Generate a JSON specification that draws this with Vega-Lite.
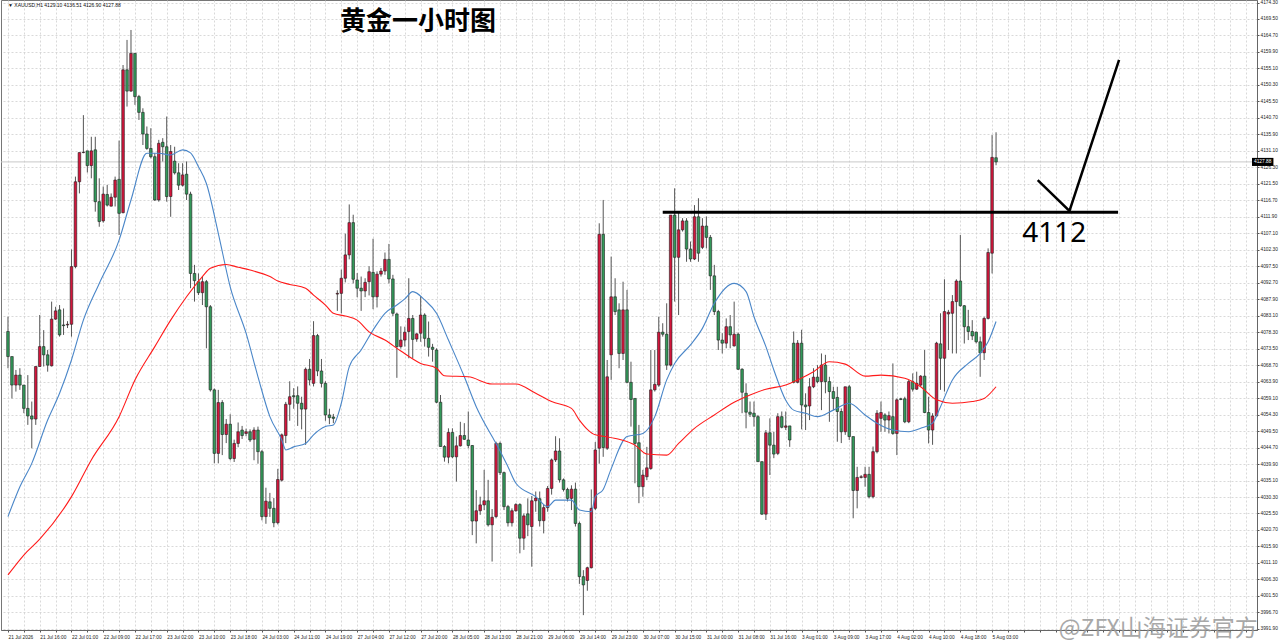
{
  "$schema": "https://vega.github.io/schema/vega-lite/v6.json",
  "width": 1256,
  "height": 630,
  "autosize": "none",
  "padding": {"left": 1, "top": 0, "right": 23, "bottom": 12},
  "background": "white",
  "config": {
    "view": {"stroke": "#777777", "strokeWidth": 1},
    "font": "Liberation Sans",
    "axis": {"labelOverlap": false, "labelSeparation": 0, "labelBound": false}
  },
  "datasets": {
    "candles": [
      {"i":0,"o":4078.5,"h":4082.8,"l":4067.8,"c":4071.2},
      {"i":1,"o":4071.2,"h":4071.2,"l":4059.0,"c":4062.9},
      {"i":2,"o":4062.9,"h":4067.3,"l":4061.0,"c":4065.8},
      {"i":3,"o":4065.8,"h":4067.8,"l":4061.5,"c":4062.9},
      {"i":4,"o":4062.9,"h":4062.9,"l":4054.7,"c":4056.1},
      {"i":5,"o":4056.1,"h":4065.8,"l":4051.3,"c":4053.9},
      {"i":6,"o":4053.9,"h":4058.1,"l":4044.5,"c":4053.0},
      {"i":7,"o":4053.0,"h":4068.3,"l":4051.3,"c":4068.3},
      {"i":8,"o":4068.3,"h":4083.3,"l":4068.3,"c":4074.1},
      {"i":9,"o":4074.1,"h":4078.9,"l":4068.3,"c":4071.7},
      {"i":10,"o":4071.7,"h":4073.1,"l":4066.8,"c":4068.7},
      {"i":11,"o":4068.5,"h":4087.2,"l":4068.3,"c":4082.1},
      {"i":12,"o":4082.1,"h":4085.7,"l":4081.9,"c":4084.5},
      {"i":13,"o":4084.8,"h":4086.2,"l":4077.0,"c":4077.5},
      {"i":14,"o":4080.4,"h":4085.2,"l":4077.5,"c":4080.2},
      {"i":15,"o":4080.4,"h":4081.5,"l":4079.5,"c":4080.6},
      {"i":16,"o":4080.6,"h":4102.4,"l":4077.0,"c":4097.4},
      {"i":17,"o":4097.4,"h":4123.6,"l":4096.9,"c":4122.1},
      {"i":18,"o":4122.1,"h":4130.6,"l":4118.7,"c":4130.6},
      {"i":19,"o":4130.6,"h":4141.5,"l":4130.4,"c":4130.7},
      {"i":20,"o":4131.1,"h":4131.1,"l":4124.8,"c":4126.8},
      {"i":21,"o":4126.8,"h":4135.2,"l":4123.1,"c":4131.1},
      {"i":22,"o":4131.4,"h":4135.2,"l":4113.4,"c":4116.3},
      {"i":23,"o":4116.3,"h":4123.1,"l":4109.0,"c":4110.5},
      {"i":24,"o":4110.7,"h":4120.7,"l":4110.2,"c":4118.5},
      {"i":25,"o":4118.4,"h":4121.2,"l":4114.9,"c":4115.3},
      {"i":26,"o":4115.0,"h":4118.7,"l":4114.9,"c":4117.6},
      {"i":27,"o":4117.6,"h":4123.6,"l":4114.9,"c":4122.6},
      {"i":28,"o":4122.8,"h":4134.1,"l":4106.6,"c":4112.9},
      {"i":29,"o":4113.1,"h":4156.1,"l":4112.9,"c":4154.7},
      {"i":30,"o":4154.7,"h":4163.4,"l":4144.0,"c":4148.5},
      {"i":31,"o":4148.5,"h":4166.3,"l":4148.3,"c":4159.5},
      {"i":32,"o":4159.5,"h":4159.5,"l":4144.5,"c":4146.9},
      {"i":33,"o":4146.9,"h":4147.4,"l":4140.1,"c":4142.3},
      {"i":34,"o":4142.3,"h":4143.5,"l":4132.8,"c":4136.0},
      {"i":35,"o":4136.0,"h":4138.2,"l":4131.4,"c":4131.8},
      {"i":36,"o":4131.8,"h":4137.7,"l":4128.9,"c":4129.4},
      {"i":37,"o":4129.4,"h":4130.4,"l":4116.5,"c":4116.8},
      {"i":38,"o":4116.8,"h":4134.3,"l":4116.3,"c":4133.3},
      {"i":39,"o":4133.6,"h":4134.8,"l":4128.0,"c":4132.3},
      {"i":40,"o":4132.3,"h":4141.1,"l":4116.3,"c":4117.8},
      {"i":41,"o":4117.8,"h":4132.8,"l":4111.9,"c":4130.9},
      {"i":42,"o":4128.1,"h":4132.3,"l":4124.2,"c":4124.7},
      {"i":43,"o":4124.7,"h":4127.5,"l":4119.7,"c":4121.1},
      {"i":44,"o":4121.1,"h":4127.5,"l":4120.7,"c":4124.1},
      {"i":45,"o":4124.3,"h":4128.0,"l":4116.8,"c":4118.5},
      {"i":46,"o":4118.5,"h":4119.2,"l":4091.1,"c":4095.4},
      {"i":47,"o":4095.4,"h":4097.9,"l":4087.2,"c":4093.3},
      {"i":48,"o":4093.0,"h":4095.4,"l":4089.1,"c":4089.8},
      {"i":49,"o":4089.8,"h":4094.5,"l":4086.2,"c":4093.0},
      {"i":50,"o":4093.0,"h":4093.5,"l":4073.6,"c":4085.7},
      {"i":51,"o":4085.7,"h":4086.2,"l":4061.0,"c":4061.5},
      {"i":52,"o":4061.5,"h":4061.9,"l":4040.1,"c":4043.0},
      {"i":53,"o":4043.0,"h":4061.5,"l":4040.1,"c":4057.8},
      {"i":54,"o":4057.8,"h":4058.5,"l":4042.5,"c":4048.5},
      {"i":55,"o":4048.5,"h":4053.0,"l":4046.0,"c":4051.5},
      {"i":56,"o":4051.5,"h":4054.4,"l":4041.0,"c":4041.5},
      {"i":57,"o":4041.5,"h":4047.0,"l":4040.5,"c":4045.9},
      {"i":58,"o":4045.9,"h":4052.0,"l":4044.8,"c":4049.3},
      {"i":59,"o":4049.8,"h":4051.0,"l":4047.2,"c":4048.2},
      {"i":60,"o":4048.8,"h":4050.2,"l":4048.0,"c":4049.3},
      {"i":61,"o":4049.3,"h":4050.0,"l":4046.3,"c":4046.9},
      {"i":62,"o":4047.1,"h":4050.6,"l":4041.0,"c":4049.8},
      {"i":63,"o":4049.8,"h":4050.8,"l":4040.0,"c":4043.5},
      {"i":64,"o":4043.5,"h":4044.0,"l":4023.5,"c":4024.6},
      {"i":65,"o":4024.6,"h":4033.0,"l":4022.5,"c":4029.1},
      {"i":66,"o":4028.9,"h":4031.5,"l":4024.5,"c":4027.0},
      {"i":67,"o":4027.0,"h":4030.0,"l":4021.5,"c":4022.8},
      {"i":68,"o":4022.8,"h":4038.5,"l":4022.3,"c":4035.4},
      {"i":69,"o":4035.2,"h":4048.8,"l":4034.8,"c":4048.4},
      {"i":70,"o":4048.2,"h":4058.0,"l":4046.0,"c":4057.3},
      {"i":71,"o":4057.3,"h":4064.0,"l":4052.5,"c":4059.5},
      {"i":72,"o":4059.8,"h":4062.0,"l":4056.0,"c":4059.5},
      {"i":73,"o":4059.8,"h":4062.5,"l":4051.0,"c":4057.6},
      {"i":74,"o":4057.6,"h":4059.5,"l":4050.0,"c":4055.9},
      {"i":75,"o":4055.9,"h":4068.0,"l":4045.5,"c":4067.5},
      {"i":76,"o":4067.5,"h":4070.5,"l":4062.8,"c":4064.4},
      {"i":77,"o":4063.4,"h":4081.5,"l":4062.5,"c":4077.3},
      {"i":78,"o":4077.3,"h":4077.8,"l":4065.5,"c":4067.0},
      {"i":79,"o":4067.0,"h":4070.5,"l":4062.2,"c":4063.4},
      {"i":80,"o":4063.4,"h":4064.0,"l":4052.5,"c":4054.2},
      {"i":81,"o":4054.2,"h":4056.0,"l":4051.5,"c":4053.4},
      {"i":82,"o":4053.6,"h":4054.5,"l":4051.8,"c":4053.2},
      {"i":83,"o":4089.4,"h":4090.5,"l":4084.5,"c":4089.6},
      {"i":84,"o":4089.6,"h":4096.5,"l":4083.8,"c":4094.0},
      {"i":85,"o":4094.0,"h":4107.0,"l":4092.8,"c":4100.8},
      {"i":86,"o":4100.8,"h":4115.5,"l":4099.5,"c":4110.2},
      {"i":87,"o":4110.2,"h":4112.5,"l":4092.5,"c":4093.7},
      {"i":88,"o":4093.5,"h":4095.5,"l":4088.5,"c":4091.1},
      {"i":89,"o":4091.1,"h":4094.5,"l":4084.5,"c":4090.3},
      {"i":90,"o":4090.3,"h":4094.0,"l":4088.5,"c":4092.8},
      {"i":91,"o":4093.0,"h":4097.5,"l":4089.0,"c":4095.9},
      {"i":92,"o":4095.7,"h":4105.5,"l":4085.0,"c":4088.6},
      {"i":93,"o":4088.6,"h":4096.0,"l":4085.5,"c":4095.2},
      {"i":94,"o":4095.2,"h":4097.0,"l":4094.5,"c":4096.1},
      {"i":95,"o":4096.1,"h":4101.5,"l":4095.0,"c":4099.5},
      {"i":96,"o":4099.5,"h":4104.0,"l":4092.5,"c":4093.8},
      {"i":97,"o":4093.8,"h":4095.0,"l":4083.0,"c":4083.8},
      {"i":98,"o":4083.6,"h":4084.0,"l":4065.0,"c":4074.1},
      {"i":99,"o":4074.1,"h":4080.0,"l":4073.5,"c":4076.0},
      {"i":100,"o":4076.0,"h":4079.9,"l":4074.1,"c":4078.3},
      {"i":101,"o":4078.5,"h":4094.0,"l":4070.7,"c":4082.3},
      {"i":102,"o":4082.3,"h":4083.3,"l":4070.7,"c":4076.2},
      {"i":103,"o":4076.3,"h":4078.0,"l":4075.5,"c":4077.8},
      {"i":104,"o":4078.0,"h":4088.8,"l":4075.5,"c":4083.3},
      {"i":105,"o":4083.3,"h":4083.8,"l":4074.1,"c":4076.5},
      {"i":106,"o":4076.5,"h":4081.4,"l":4071.2,"c":4073.9},
      {"i":107,"o":4073.9,"h":4074.9,"l":4069.7,"c":4073.3},
      {"i":108,"o":4073.1,"h":4073.6,"l":4057.6,"c":4057.9},
      {"i":109,"o":4057.9,"h":4060.0,"l":4045.0,"c":4045.0},
      {"i":110,"o":4045.0,"h":4045.4,"l":4040.6,"c":4041.9},
      {"i":111,"o":4041.9,"h":4050.3,"l":4040.1,"c":4049.1},
      {"i":112,"o":4049.1,"h":4050.3,"l":4041.6,"c":4042.0},
      {"i":113,"o":4042.0,"h":4047.9,"l":4034.8,"c":4045.2},
      {"i":114,"o":4045.2,"h":4052.2,"l":4045.0,"c":4048.2},
      {"i":115,"o":4048.2,"h":4051.8,"l":4046.9,"c":4047.1},
      {"i":116,"o":4046.9,"h":4055.2,"l":4044.5,"c":4045.3},
      {"i":117,"o":4045.3,"h":4045.4,"l":4019.2,"c":4023.3},
      {"i":118,"o":4023.3,"h":4032.3,"l":4016.8,"c":4026.3},
      {"i":119,"o":4026.3,"h":4030.4,"l":4025.1,"c":4028.0},
      {"i":120,"o":4028.0,"h":4038.2,"l":4026.5,"c":4029.2},
      {"i":121,"o":4029.2,"h":4035.3,"l":4021.7,"c":4022.2},
      {"i":122,"o":4022.2,"h":4026.8,"l":4011.5,"c":4024.4},
      {"i":123,"o":4024.6,"h":4046.4,"l":4024.1,"c":4045.9},
      {"i":124,"o":4045.9,"h":4046.4,"l":4036.7,"c":4037.4},
      {"i":125,"o":4037.4,"h":4037.7,"l":4026.5,"c":4027.5},
      {"i":126,"o":4027.5,"h":4028.0,"l":4021.7,"c":4022.8},
      {"i":127,"o":4022.8,"h":4027.0,"l":4021.7,"c":4026.3},
      {"i":128,"o":4026.3,"h":4028.5,"l":4026.0,"c":4028.1},
      {"i":129,"o":4028.1,"h":4028.5,"l":4013.9,"c":4018.3},
      {"i":130,"o":4018.3,"h":4025.5,"l":4014.9,"c":4024.8},
      {"i":131,"o":4025.4,"h":4029.9,"l":4018.9,"c":4022.2},
      {"i":132,"o":4021.7,"h":4030.6,"l":4010.0,"c":4029.2},
      {"i":133,"o":4029.2,"h":4031.9,"l":4026.0,"c":4030.0},
      {"i":134,"o":4029.8,"h":4031.9,"l":4021.7,"c":4023.4},
      {"i":135,"o":4023.4,"h":4028.0,"l":4019.7,"c":4027.2},
      {"i":136,"o":4027.2,"h":4033.5,"l":4026.0,"c":4032.8},
      {"i":137,"o":4032.8,"h":4041.5,"l":4031.0,"c":4041.1},
      {"i":138,"o":4041.1,"h":4048.0,"l":4040.5,"c":4043.7},
      {"i":139,"o":4043.7,"h":4047.4,"l":4034.5,"c":4035.3},
      {"i":140,"o":4035.3,"h":4035.7,"l":4031.9,"c":4032.5},
      {"i":141,"o":4032.5,"h":4033.0,"l":4029.0,"c":4029.9},
      {"i":142,"o":4029.9,"h":4033.7,"l":4026.5,"c":4032.6},
      {"i":143,"o":4032.6,"h":4034.5,"l":4021.7,"c":4022.6},
      {"i":144,"o":4022.6,"h":4023.1,"l":4005.0,"c":4007.1},
      {"i":145,"o":4007.1,"h":4009.0,"l":3995.9,"c":4004.7},
      {"i":146,"o":4006.0,"h":4010.0,"l":4003.0,"c":4009.7},
      {"i":147,"o":4009.7,"h":4032.5,"l":4009.5,"c":4027.0},
      {"i":148,"o":4027.0,"h":4046.3,"l":4026.5,"c":4044.0},
      {"i":149,"o":4044.5,"h":4110.0,"l":4040.0,"c":4106.8},
      {"i":150,"o":4106.8,"h":4116.8,"l":4042.0,"c":4044.7},
      {"i":151,"o":4044.5,"h":4070.2,"l":4044.0,"c":4065.3},
      {"i":152,"o":4071.7,"h":4100.3,"l":4064.4,"c":4088.6},
      {"i":153,"o":4088.6,"h":4094.0,"l":4083.3,"c":4084.3},
      {"i":154,"o":4084.8,"h":4086.7,"l":4067.8,"c":4072.1},
      {"i":155,"o":4072.1,"h":4093.0,"l":4070.2,"c":4084.8},
      {"i":156,"o":4084.8,"h":4090.6,"l":4063.4,"c":4063.7},
      {"i":157,"o":4063.7,"h":4069.7,"l":4050.8,"c":4058.7},
      {"i":158,"o":4059.0,"h":4059.0,"l":4034.3,"c":4045.9},
      {"i":159,"o":4046.1,"h":4051.3,"l":4028.5,"c":4033.3},
      {"i":160,"o":4033.3,"h":4038.2,"l":4030.4,"c":4036.7},
      {"i":161,"o":4036.2,"h":4044.9,"l":4035.2,"c":4038.8},
      {"i":162,"o":4038.6,"h":4073.1,"l":4038.2,"c":4061.5},
      {"i":163,"o":4061.5,"h":4073.1,"l":4061.0,"c":4063.1},
      {"i":164,"o":4062.9,"h":4082.8,"l":4062.4,"c":4078.3},
      {"i":165,"o":4078.3,"h":4080.9,"l":4077.0,"c":4077.7},
      {"i":166,"o":4077.7,"h":4086.7,"l":4067.3,"c":4068.7},
      {"i":167,"o":4068.7,"h":4112.4,"l":4068.3,"c":4112.4},
      {"i":168,"o":4112.4,"h":4120.2,"l":4087.2,"c":4100.1},
      {"i":169,"o":4100.1,"h":4113.4,"l":4083.3,"c":4108.1},
      {"i":170,"o":4108.1,"h":4111.5,"l":4107.6,"c":4110.7},
      {"i":171,"o":4110.7,"h":4111.5,"l":4098.8,"c":4102.5},
      {"i":172,"o":4102.5,"h":4104.7,"l":4098.8,"c":4099.6},
      {"i":173,"o":4099.6,"h":4115.3,"l":4099.3,"c":4111.9},
      {"i":174,"o":4111.9,"h":4117.3,"l":4098.8,"c":4101.3},
      {"i":175,"o":4103.0,"h":4111.5,"l":4102.5,"c":4109.2},
      {"i":176,"o":4109.2,"h":4112.0,"l":4102.7,"c":4105.9},
      {"i":177,"o":4105.9,"h":4106.6,"l":4090.6,"c":4094.7},
      {"i":178,"o":4094.7,"h":4097.9,"l":4083.3,"c":4084.3},
      {"i":179,"o":4084.3,"h":4084.8,"l":4073.1,"c":4076.0},
      {"i":180,"o":4076.0,"h":4078.0,"l":4072.1,"c":4075.1},
      {"i":181,"o":4075.1,"h":4082.3,"l":4073.6,"c":4079.9},
      {"i":182,"o":4079.9,"h":4083.3,"l":4073.6,"c":4077.5},
      {"i":183,"o":4074.3,"h":4087.2,"l":4074.1,"c":4077.7},
      {"i":184,"o":4077.7,"h":4078.2,"l":4067.3,"c":4067.5},
      {"i":185,"o":4067.5,"h":4067.8,"l":4054.7,"c":4060.8},
      {"i":186,"o":4060.5,"h":4063.4,"l":4050.3,"c":4055.0},
      {"i":187,"o":4055.0,"h":4058.1,"l":4053.6,"c":4054.4},
      {"i":188,"o":4054.7,"h":4058.1,"l":4050.8,"c":4053.7},
      {"i":189,"o":4053.7,"h":4054.2,"l":4040.6,"c":4040.6},
      {"i":190,"o":4040.6,"h":4040.6,"l":4025.1,"c":4025.3},
      {"i":191,"o":4025.3,"h":4049.8,"l":4023.6,"c":4049.0},
      {"i":192,"o":4049.0,"h":4053.2,"l":4036.7,"c":4045.4},
      {"i":193,"o":4045.4,"h":4049.3,"l":4041.6,"c":4042.8},
      {"i":194,"o":4043.0,"h":4054.7,"l":4042.5,"c":4053.7},
      {"i":195,"o":4053.7,"h":4055.2,"l":4050.3,"c":4050.6},
      {"i":196,"o":4050.6,"h":4055.2,"l":4049.8,"c":4051.0},
      {"i":197,"o":4051.0,"h":4051.0,"l":4044.9,"c":4046.9},
      {"i":198,"o":4075.1,"h":4078.5,"l":4063.4,"c":4063.7},
      {"i":199,"o":4063.7,"h":4076.0,"l":4063.4,"c":4075.1},
      {"i":200,"o":4075.1,"h":4079.0,"l":4050.0,"c":4057.1},
      {"i":201,"o":4057.1,"h":4060.5,"l":4049.8,"c":4056.6},
      {"i":202,"o":4056.8,"h":4064.9,"l":4052.7,"c":4062.4},
      {"i":203,"o":4062.4,"h":4067.8,"l":4062.0,"c":4065.2},
      {"i":204,"o":4065.2,"h":4068.7,"l":4063.4,"c":4063.9},
      {"i":205,"o":4063.9,"h":4072.1,"l":4055.6,"c":4068.7},
      {"i":206,"o":4068.7,"h":4071.7,"l":4060.5,"c":4063.9},
      {"i":207,"o":4063.9,"h":4065.3,"l":4052.2,"c":4061.0},
      {"i":208,"o":4061.0,"h":4062.4,"l":4055.6,"c":4059.0},
      {"i":209,"o":4059.3,"h":4062.4,"l":4046.4,"c":4055.2},
      {"i":210,"o":4055.2,"h":4056.1,"l":4046.0,"c":4049.3},
      {"i":211,"o":4049.3,"h":4062.4,"l":4048.4,"c":4062.4},
      {"i":212,"o":4062.4,"h":4062.9,"l":4046.9,"c":4047.9},
      {"i":213,"o":4047.9,"h":4047.9,"l":4024.1,"c":4032.2},
      {"i":214,"o":4032.2,"h":4039.1,"l":4027.0,"c":4036.0},
      {"i":215,"o":4036.0,"h":4036.7,"l":4035.7,"c":4036.2},
      {"i":216,"o":4036.0,"h":4039.1,"l":4033.3,"c":4036.9},
      {"i":217,"o":4036.9,"h":4039.1,"l":4029.9,"c":4030.4},
      {"i":218,"o":4030.4,"h":4045.0,"l":4029.9,"c":4043.5},
      {"i":219,"o":4043.5,"h":4055.6,"l":4043.0,"c":4054.7},
      {"i":220,"o":4053.2,"h":4058.1,"l":4049.3,"c":4054.9},
      {"i":221,"o":4054.2,"h":4054.7,"l":4049.3,"c":4052.7},
      {"i":222,"o":4052.7,"h":4055.2,"l":4048.8,"c":4054.0},
      {"i":223,"o":4053.7,"h":4069.2,"l":4048.4,"c":4048.8},
      {"i":224,"o":4048.8,"h":4059.0,"l":4042.5,"c":4058.6},
      {"i":225,"o":4058.9,"h":4059.2,"l":4058.5,"c":4058.7},
      {"i":226,"o":4058.9,"h":4059.5,"l":4051.8,"c":4052.2},
      {"i":227,"o":4052.2,"h":4064.4,"l":4051.8,"c":4063.9},
      {"i":228,"o":4063.9,"h":4066.3,"l":4061.0,"c":4061.7},
      {"i":229,"o":4061.7,"h":4066.8,"l":4061.5,"c":4063.4},
      {"i":230,"o":4062.9,"h":4065.8,"l":4062.4,"c":4065.5},
      {"i":231,"o":4065.5,"h":4073.1,"l":4054.7,"c":4054.9},
      {"i":232,"o":4054.9,"h":4059.5,"l":4045.9,"c":4049.8},
      {"i":233,"o":4049.8,"h":4054.7,"l":4045.5,"c":4053.9},
      {"i":234,"o":4053.9,"h":4075.5,"l":4053.7,"c":4075.1},
      {"i":235,"o":4074.9,"h":4083.8,"l":4061.5,"c":4070.7},
      {"i":236,"o":4070.7,"h":4093.7,"l":4061.0,"c":4084.3},
      {"i":237,"o":4083.6,"h":4084.8,"l":4073.1,"c":4084.1},
      {"i":238,"o":4083.8,"h":4089.1,"l":4072.1,"c":4087.2},
      {"i":239,"o":4087.2,"h":4093.7,"l":4072.1,"c":4093.2},
      {"i":240,"o":4093.2,"h":4106.6,"l":4085.7,"c":4086.0},
      {"i":241,"o":4086.0,"h":4086.2,"l":4075.0,"c":4079.9},
      {"i":242,"o":4079.9,"h":4084.8,"l":4076.0,"c":4078.5},
      {"i":243,"o":4078.5,"h":4081.8,"l":4076.0,"c":4077.2},
      {"i":244,"o":4078.3,"h":4078.5,"l":4075.0,"c":4075.5},
      {"i":245,"o":4075.5,"h":4077.0,"l":4065.3,"c":4072.3},
      {"i":246,"o":4072.3,"h":4082.8,"l":4070.2,"c":4082.3},
      {"i":247,"o":4082.3,"h":4102.7,"l":4082.0,"c":4101.5},
      {"i":248,"o":4101.3,"h":4135.7,"l":4095.4,"c":4129.2},
      {"i":249,"o":4129.1,"h":4136.51,"l":4126.9,"c":4127.88}
    ],
    "ma": [
      {"s":"fast","i":0,"v":4024.6},{"s":"fast","i":3,"v":4033.3},{"s":"fast","i":6,"v":4040.1},
      {"s":"fast","i":10,"v":4052.7},{"s":"fast","i":13,"v":4060.5},{"s":"fast","i":16,"v":4070.2},
      {"s":"fast","i":19,"v":4081.8},{"s":"fast","i":23,"v":4092.5},{"s":"fast","i":28,"v":4105.1},
      {"s":"fast","i":31,"v":4116.8},{"s":"fast","i":35,"v":4130.4},{"s":"fast","i":38,"v":4130.4},
      {"s":"fast","i":41,"v":4129.9},{"s":"fast","i":44,"v":4131.4},{"s":"fast","i":46,"v":4130.5},
      {"s":"fast","i":48,"v":4126.5},{"s":"fast","i":50,"v":4121.6},{"s":"fast","i":53,"v":4107.1},
      {"s":"fast","i":56,"v":4091.5},{"s":"fast","i":60,"v":4078.0},{"s":"fast","i":63,"v":4065.3},
      {"s":"fast","i":66,"v":4053.7},{"s":"fast","i":69,"v":4046.9},{"s":"fast","i":70,"v":4044.0},
      {"s":"fast","i":72,"v":4044.9},{"s":"fast","i":75,"v":4045.9},{"s":"fast","i":77,"v":4048.4},
      {"s":"fast","i":80,"v":4050.8},{"s":"fast","i":82,"v":4051.3},{"s":"fast","i":84,"v":4057.6},
      {"s":"fast","i":86,"v":4068.2},{"s":"fast","i":89,"v":4073.1},{"s":"fast","i":92,"v":4078.9},
      {"s":"fast","i":95,"v":4083.8},{"s":"fast","i":98,"v":4086.2},{"s":"fast","i":100,"v":4088.0},
      {"s":"fast","i":102,"v":4090.1},{"s":"fast","i":105,"v":4087.7},{"s":"fast","i":108,"v":4083.8},
      {"s":"fast","i":111,"v":4076.0},{"s":"fast","i":115,"v":4065.3},{"s":"fast","i":118,"v":4056.6},
      {"s":"fast","i":122,"v":4047.9},{"s":"fast","i":123,"v":4045.9},{"s":"fast","i":126,"v":4039.1},
      {"s":"fast","i":128,"v":4034.3},{"s":"fast","i":133,"v":4030.4},{"s":"fast","i":136,"v":4027.5},
      {"s":"fast","i":138,"v":4029.4},{"s":"fast","i":142,"v":4029.4},{"s":"fast","i":144,"v":4026.5},
      {"s":"fast","i":147,"v":4026.0},{"s":"fast","i":148,"v":4030.4},{"s":"fast","i":150,"v":4032.5},
      {"s":"fast","i":152,"v":4038.5},{"s":"fast","i":156,"v":4047.9},{"s":"fast","i":160,"v":4048.8},
      {"s":"fast","i":163,"v":4053.7},{"s":"fast","i":166,"v":4064.4},{"s":"fast","i":168,"v":4069.2},
      {"s":"fast","i":172,"v":4074.6},{"s":"fast","i":175,"v":4079.4},{"s":"fast","i":178,"v":4086.7},
      {"s":"fast","i":183,"v":4092.5},{"s":"fast","i":186,"v":4090.1},{"s":"fast","i":188,"v":4082.8},
      {"s":"fast","i":191,"v":4074.1},{"s":"fast","i":193,"v":4067.3},{"s":"fast","i":196,"v":4058.5},
      {"s":"fast","i":198,"v":4055.6},{"s":"fast","i":201,"v":4054.7},{"s":"fast","i":204,"v":4053.7},
      {"s":"fast","i":208,"v":4055.6},{"s":"fast","i":212,"v":4057.6},{"s":"fast","i":216,"v":4054.2},
      {"s":"fast","i":219,"v":4051.8},{"s":"fast","i":223,"v":4049.8},{"s":"fast","i":227,"v":4049.3},
      {"s":"fast","i":230,"v":4050.3},{"s":"fast","i":233,"v":4051.8},{"s":"fast","i":235,"v":4056.6},
      {"s":"fast","i":238,"v":4064.4},{"s":"fast","i":242,"v":4069.2},{"s":"fast","i":245,"v":4072.1},
      {"s":"fast","i":247,"v":4075.5},{"s":"fast","i":249,"v":4081.4},
      {"s":"slow","i":0,"v":4007.6},{"s":"slow","i":4,"v":4013.4},{"s":"slow","i":8,"v":4018.0},
      {"s":"slow","i":16,"v":4030.4},{"s":"slow","i":21,"v":4041.1},{"s":"slow","i":28,"v":4053.7},
      {"s":"slow","i":32,"v":4064.4},{"s":"slow","i":37,"v":4074.1},{"s":"slow","i":41,"v":4081.8},
      {"s":"slow","i":45,"v":4088.6},{"s":"slow","i":49,"v":4094.5},{"s":"slow","i":51,"v":4096.9},
      {"s":"slow","i":55,"v":4098.0},{"s":"slow","i":58,"v":4097.2},{"s":"slow","i":61,"v":4096.4},
      {"s":"slow","i":66,"v":4094.5},{"s":"slow","i":68,"v":4093.2},{"s":"slow","i":71,"v":4092.2},
      {"s":"slow","i":75,"v":4091.1},{"s":"slow","i":77,"v":4089.1},{"s":"slow","i":80,"v":4086.2},
      {"s":"slow","i":82,"v":4083.8},{"s":"slow","i":85,"v":4083.0},{"s":"slow","i":88,"v":4081.8},
      {"s":"slow","i":91,"v":4078.4},{"s":"slow","i":95,"v":4076.0},{"s":"slow","i":99,"v":4072.8},
      {"s":"slow","i":104,"v":4069.2},{"s":"slow","i":108,"v":4067.8},{"s":"slow","i":110,"v":4065.6},
      {"s":"slow","i":116,"v":4065.3},{"s":"slow","i":122,"v":4063.2},{"s":"slow","i":128,"v":4063.2},
      {"s":"slow","i":133,"v":4060.5},{"s":"slow","i":137,"v":4058.1},{"s":"slow","i":142,"v":4056.1},
      {"s":"slow","i":144,"v":4052.7},{"s":"slow","i":146,"v":4050.0},{"s":"slow","i":148,"v":4048.4},
      {"s":"slow","i":150,"v":4048.0},{"s":"slow","i":154,"v":4047.1},{"s":"slow","i":158,"v":4045.4},
      {"s":"slow","i":161,"v":4042.8},{"s":"slow","i":166,"v":4042.5},{"s":"slow","i":169,"v":4045.9},
      {"s":"slow","i":173,"v":4050.3},{"s":"slow","i":178,"v":4054.2},{"s":"slow","i":183,"v":4057.9},
      {"s":"slow","i":187,"v":4060.0},{"s":"slow","i":191,"v":4061.7},{"s":"slow","i":196,"v":4062.9},
      {"s":"slow","i":199,"v":4064.4},{"s":"slow","i":203,"v":4066.8},{"s":"slow","i":207,"v":4069.7},
      {"s":"slow","i":211,"v":4069.0},{"s":"slow","i":216,"v":4065.5},{"s":"slow","i":220,"v":4065.8},
      {"s":"slow","i":226,"v":4064.9},{"s":"slow","i":230,"v":4062.4},{"s":"slow","i":234,"v":4058.6},
      {"s":"slow","i":238,"v":4057.6},{"s":"slow","i":243,"v":4058.1},{"s":"slow","i":246,"v":4059.0},
      {"s":"slow","i":249,"v":4062.4}
    ],
    "check": [
      {"k":1,"i":259.5,"p":4122.6},
      {"k":2,"i":267.5,"p":4113.6},
      {"k":3,"i":280.0,"p":4157.6}
    ]
  },
  "layer": [
    {
      "data": {"values": [{"p": 4127.88}]},
      "mark": {"type": "rule", "color": "#c8c8c8", "strokeWidth": 1},
      "encoding": {
        "y": {
          "field": "p",
          "type": "quantitative",
          "scale": {"domain": [3991.57, 4175.03], "nice": false, "zero": false},
          "axis": {
            "orient": "right",
            "title": null,
            "values": [3991.9,3996.7,4001.5,4006.3,4011.1,4015.9,4020.7,4025.5,4030.3,4035.1,4039.9,4044.7,4049.5,4054.3,4059.1,4063.9,4068.7,4073.5,4078.3,4083.1,4087.9,4092.7,4097.5,4102.3,4107.1,4111.9,4116.7,4121.5,4126.3,4131.1,4135.9,4140.7,4145.5,4150.3,4155.1,4159.9,4164.7,4169.5,4174.3],
            "tickCount": 200,
            "format": ".2f",
            "labelFontSize": 4.8,
            "labelColor": "#222222",
            "labelPadding": 1,
            "labelOverlap": false,
            "ticks": true,
            "tickSize": 2,
            "tickColor": "#555555",
            "domain": true,
            "domainColor": "#666666",
            "grid": true,
            "gridColor": "#cfcfcf",
            "gridDash": [2, 2],
            "gridWidth": 0.8
          }
        }
      }
    },
    {
      "data": {"name": "candles"},
      "mark": {"type": "rule", "color": "#555555", "strokeWidth": 1},
      "encoding": {
        "x": {
          "field": "i",
          "type": "quantitative",
          "scale": {"domain": [-0.5, 313.5], "nice": false, "zero": false},
          "axis": {
            "orient": "bottom",
            "title": null,
            "values": [0,4,8,12,16,20,24,28,32,36,40,44,48,52,56,60,64,68,72,76,80,84,88,92,96,100,104,108,112,116,120,124,128,132,136,140,144,148,152,156,160,164,168,172,176,180,184,188,192,196,200,204,208,212,216,220,224,228,232,236,240,244,248,252,256,260,264,268,272,276,280,284,288,292,296,300,304,308,312],
            "tickCount": 200,
            "labelExpr": "datum.value % 8 == 0 && datum.value <= 248 ? ['21 Jul 2026','21 Jul 16:00','22 Jul 01:00','22 Jul 09:00','22 Jul 17:00','23 Jul 02:00','23 Jul 10:00','23 Jul 18:00','24 Jul 03:00','24 Jul 11:00','24 Jul 19:00','27 Jul 04:00','27 Jul 12:00','27 Jul 20:00','28 Jul 05:00','28 Jul 13:00','28 Jul 21:00','29 Jul 06:00','29 Jul 14:00','29 Jul 23:00','30 Jul 07:00','30 Jul 15:00','31 Jul 00:00','31 Jul 08:00','31 Jul 16:00','3 Aug 01:00','3 Aug 09:00','3 Aug 17:00','4 Aug 02:00','4 Aug 10:00','4 Aug 18:00','5 Aug 03:00'][datum.value / 8] : ''",
            "labelFontSize": 4.8,
            "labelColor": "#222222",
            "labelAlign": "left",
            "labelPadding": 2,
            "labelFlush": false,
            "labelOverlap": false,
            "ticks": true,
            "tickSize": 2,
            "tickColor": "#555555",
            "domain": true,
            "domainColor": "#666666",
            "grid": true,
            "gridColor": "#cfcfcf",
            "gridDash": [2, 2],
            "gridWidth": 0.8
          }
        },
        "y": {"field": "l", "type": "quantitative"},
        "y2": {"field": "h"}
      }
    },
    {
      "data": {"name": "candles"},
      "mark": {"type": "bar", "width": 2.6, "stroke": "#1e1e1e", "strokeWidth": 0.6},
      "encoding": {
        "x": {"field": "i", "type": "quantitative"},
        "y": {"field": "o", "type": "quantitative"},
        "y2": {"field": "c"},
        "fill": {
          "condition": {"test": "datum.c >= datum.o", "value": "#d3163c"},
          "value": "#33995a"
        }
      }
    },
    {
      "data": {"name": "ma"},
      "mark": {"type": "line", "strokeWidth": 1.1, "interpolate": "monotone"},
      "encoding": {
        "x": {"field": "i", "type": "quantitative"},
        "y": {"field": "v", "type": "quantitative"},
        "color": {
          "field": "s",
          "type": "nominal",
          "scale": {"domain": ["fast", "slow"], "range": ["#4a86c8", "#ff1a1a"]},
          "legend": null
        }
      }
    },
    {
      "data": {"values": [{"a": 165, "b": 279.75, "p": 4113.2}]},
      "mark": {"type": "rule", "color": "#000000", "strokeWidth": 3},
      "encoding": {
        "x": {"field": "a", "type": "quantitative"},
        "x2": {"field": "b"},
        "y": {"field": "p", "type": "quantitative"}
      }
    },
    {
      "data": {"name": "check"},
      "mark": {"type": "line", "color": "#000000", "strokeWidth": 2.5},
      "encoding": {
        "x": {"field": "i", "type": "quantitative"},
        "y": {"field": "p", "type": "quantitative"},
        "order": {"field": "k"}
      }
    },
    {
      "data": {"values": [{"i": 255.6, "p": 4106.9, "t": "4112"}]},
      "mark": {"type": "text", "align": "left", "baseline": "middle", "fontSize": 28, "font": "Noto Sans", "color": "#000000"},
      "encoding": {
        "x": {"field": "i", "type": "quantitative"},
        "y": {"field": "p", "type": "quantitative"},
        "text": {"field": "t"}
      }
    },
    {
      "data": {"values": [{"i": 103.3, "p": 4168.6, "t": "黄金一小时图"}]},
      "mark": {"type": "text", "align": "center", "baseline": "middle", "fontSize": 26, "fontWeight": "bold", "font": "Noto Sans CJK SC", "color": "#000000"},
      "encoding": {
        "x": {"field": "i", "type": "quantitative"},
        "y": {"field": "p", "type": "quantitative"},
        "text": {"field": "t"}
      }
    },
    {
      "data": {"values": [{"i": 0.0, "p": 4173.6, "t": "▼ XAUUSD,H1  4129.10 4136.51 4126.90 4127.88"}]},
      "mark": {"type": "text", "align": "left", "baseline": "middle", "fontSize": 5, "color": "#111111"},
      "encoding": {
        "x": {"field": "i", "type": "quantitative"},
        "y": {"field": "p", "type": "quantitative"},
        "text": {"field": "t"}
      }
    },
    {
      "data": {"values": [{"a": 313.5, "b": 318.9, "lo": 4126.7, "hi": 4129.05}]},
      "mark": {"type": "rect", "color": "#000000"},
      "encoding": {
        "x": {"field": "a", "type": "quantitative"},
        "x2": {"field": "b"},
        "y": {"field": "lo", "type": "quantitative"},
        "y2": {"field": "hi"}
      }
    },
    {
      "data": {"values": [{"i": 313.5, "p": 4127.88, "t": "4127.88"}]},
      "mark": {"type": "text", "align": "left", "baseline": "middle", "dx": 2, "fontSize": 4.8, "color": "#ffffff"},
      "encoding": {
        "x": {"field": "i", "type": "quantitative"},
        "y": {"field": "p", "type": "quantitative"},
        "text": {"field": "t"}
      }
    },
    {
      "data": {"values": [{"i": 264.8, "p": 3991.8, "t": "@ZFX山海证券官方"}]},
      "mark": {"type": "text", "align": "left", "baseline": "middle", "fontSize": 23, "font": "Noto Sans CJK SC", "color": "#9a9a9a", "opacity": 0.85},
      "encoding": {
        "x": {"field": "i", "type": "quantitative"},
        "y": {"field": "p", "type": "quantitative"},
        "text": {"field": "t"}
      }
    }
  ]
}
